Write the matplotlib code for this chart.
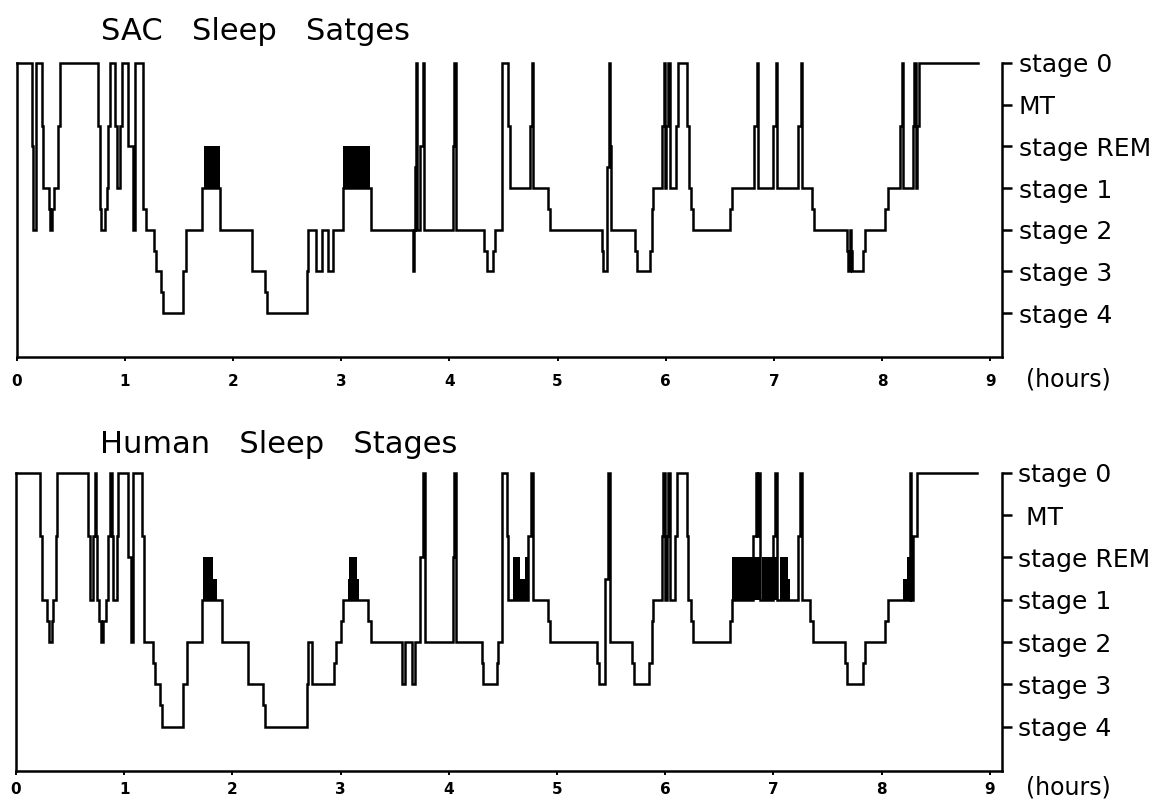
import matplotlib
matplotlib.use("Agg")
import matplotlib.pyplot as plt

# stage levels: 6 = stage 0, 5 = MT, 4 = REM, 3 = stage 1, 2 = stage 2, 1 = stage 3, 0 = stage 4
stage_ticks = [6, 5, 4, 3, 2, 1, 0]
sac_stage_labels = ["stage 0", "MT", "stage REM", "stage 1", "stage 2", "stage 3", "stage 4"]
human_stage_labels = ["stage 0", " MT", "stage REM", "stage 1", "stage 2", "stage 3", "stage 4"]
hour_ticks = [0, 1, 2, 3, 4, 5, 6, 7, 8, 9]

# SAC hypnogram (hours, stage level)
sac_hours = [0.000, 0.140, 0.155, 0.180, 0.233, 0.248, 0.303, 0.313, 0.331, 0.347,
             0.387, 0.402, 0.756, 0.772, 0.781, 0.818, 0.834, 0.849, 0.864, 0.910,
             0.926, 0.957, 0.972, 1.033, 1.074, 1.095, 1.172, 1.194, 1.271, 1.289,
             1.333, 1.357, 1.542, 1.567, 1.712, 1.881, 2.174, 2.297, 2.312, 2.682,
             2.697, 2.768, 2.821, 2.882, 2.928, 3.015, 3.274, 3.667, 3.674, 3.680,
             3.689, 3.704, 3.729, 3.754, 3.769, 4.031, 4.043, 4.062, 4.321, 4.346,
             4.407, 4.422, 4.484, 4.545, 4.561, 4.746, 4.761, 4.776, 4.915, 4.931,
             5.408, 5.423, 5.455, 5.473, 5.485, 5.492, 5.716, 5.732, 5.855, 5.871,
             5.885, 5.963, 5.984, 5.993, 6.003, 6.024, 6.040, 6.095, 6.117, 6.200,
             6.218, 6.231, 6.255, 6.594, 6.610, 6.816, 6.841, 6.856, 6.994, 7.019,
             7.031, 7.225, 7.248, 7.263, 7.349, 7.371, 7.673, 7.680, 7.700, 7.712,
             7.722, 7.826, 7.842, 8.027, 8.057, 8.166, 8.181, 8.190, 8.288, 8.297,
             8.313, 8.325, 8.338, 8.889]
sac_stage = [6, 4, 2, 6, 4.5, 3, 2.5, 2, 2.5, 3,
             4.5, 6, 4.5, 2.5, 2, 2.5, 3, 4.5, 6, 4.5,
             3, 4.5, 6, 4, 2, 6, 2.5, 2, 1.5, 1,
             0.5, 0, 1, 2, 3, 2, 1, 0.5, 0, 1,
             2, 1, 2, 1, 2, 3, 2, 1, 2, 3.5,
             6, 2, 4, 6, 2, 4, 6, 2, 1.5, 1,
             1.5, 2, 6, 4.5, 3, 4.5, 6, 3, 2.5, 2,
             1.5, 1, 3.5, 6, 4, 2, 1.5, 1, 1.5, 2.5,
             3, 4.5, 6, 3, 4.5, 6, 3, 4.5, 6, 4.5,
             3, 2.5, 2, 2.5, 3, 4.5, 6, 3, 4.5, 6,
             3, 4.5, 6, 3, 2.5, 2, 1.5, 1, 2, 1.5,
             1, 1.5, 2, 2.5, 3, 4.5, 6, 3, 4.5, 6,
             3, 4.5, 6, 6]
# REM periods drawn as solid blocks: (start, end, top level)
sac_rem = [(1.733, 1.881, 4), (3.020, 3.270, 4)]

# Human hypnogram
human_hours = [0.000, 0.222, 0.237, 0.284, 0.308, 0.330, 0.345, 0.370, 0.382, 0.669,
               0.684, 0.715, 0.727, 0.739, 0.752, 0.767, 0.782, 0.807, 0.832, 0.850,
               0.869, 0.884, 0.900, 0.930, 0.946, 1.038, 1.060, 1.084, 1.161, 1.183,
               1.269, 1.285, 1.331, 1.352, 1.546, 1.577, 1.716, 1.901, 2.147, 2.286,
               2.301, 2.686, 2.702, 2.733, 2.939, 2.957, 3.004, 3.019, 3.256, 3.278,
               3.565, 3.595, 3.657, 3.688, 3.734, 3.758, 3.780, 4.036, 4.048, 4.067,
               4.304, 4.319, 4.443, 4.458, 4.489, 4.535, 4.550, 4.735, 4.757, 4.775,
               4.920, 4.935, 5.367, 5.391, 5.444, 5.474, 5.490, 5.690, 5.712, 5.853,
               5.875, 5.890, 5.968, 5.983, 5.998, 6.014, 6.029, 6.044, 6.091, 6.106,
               6.199, 6.214, 6.235, 6.260, 6.599, 6.614, 6.814, 6.836, 6.851, 6.861,
               6.876, 6.999, 7.015, 7.030, 7.230, 7.246, 7.261, 7.338, 7.369, 7.662,
               7.677, 7.831, 7.847, 8.031, 8.062, 8.262, 8.275, 8.293, 8.324, 8.879]
human_stage = [6, 4.5, 3, 2.5, 2, 2.5, 3, 4.5, 6, 4.5,
               3, 4.5, 6, 4.5, 3, 2.5, 2, 2.5, 3, 4.5,
               6, 4.5, 3, 4.5, 6, 4, 2, 6, 4.5, 2,
               1.5, 1, 0.5, 0, 1, 2, 3, 2, 1, 0.5,
               0, 1, 2, 1, 1.5, 2, 2.5, 3, 2.5, 2,
               1, 2, 1, 2, 4, 6, 2, 4, 6, 2,
               1.5, 1, 1.5, 2, 6, 4.5, 3, 4.5, 6, 3,
               2.5, 2, 1.5, 1, 3.5, 6, 2, 1.5, 1, 1.5,
               2.5, 3, 4.5, 6, 3, 4.5, 6, 3, 4.5, 6,
               4.5, 3, 2.5, 2, 2.5, 3, 4.5, 6, 4.5, 6,
               3, 4.5, 6, 3, 4.5, 6, 3, 2.5, 2, 1.5,
               1, 1.5, 2, 2.5, 3, 6, 3, 4.5, 6, 6]
human_rem = [(1.731, 1.824, 4), (1.824, 1.855, 3.5),
             (3.065, 3.170, 3.5), (3.080, 3.150, 4),
             (4.596, 4.658, 4), (4.658, 4.704, 3.5), (4.704, 4.735, 4),
             (6.614, 6.876, 4), (6.892, 7.045, 4), (7.061, 7.138, 4), (7.138, 7.153, 3.5),
             (8.201, 8.238, 3.5), (8.238, 8.275, 4)]

plt.rcParams["font.family"] = ["DejaVu Sans"]

fig = plt.figure(figsize=(11.54, 8), dpi=100)
ax_top = fig.add_axes([0.0143, 0.5538, 0.854, 0.3675])
ax_bot = fig.add_axes([0.0139, 0.0363, 0.854, 0.3725])


def draw_hypnogram(ax, hours, stage, rem, labels, label_pad, hours_offset):
    ax.step(hours, stage, where="post", color="black", lw=1.8, clip_on=False,
            solid_joinstyle="miter")
    for start, end, top in rem:
        ax.fill_between([start, end], 3, top, color="black", lw=0)

    ax.set_xlim(0, 9.108)
    ax.set_ylim(-1.05, 6)

    ax.spines["top"].set_visible(False)
    for side in ["left", "right", "bottom"]:
        ax.spines[side].set_linewidth(1.8)

    ax.yaxis.tick_right()
    ax.set_yticks(stage_ticks)
    ax.set_yticklabels(labels, fontsize=18)
    ax.tick_params(axis="y", direction="out", length=7, width=1.8, pad=5)

    ax.set_xticks(hour_ticks)
    ax.set_xticklabels([str(h) for h in hour_ticks], fontsize=11, fontweight="bold")
    ax.tick_params(axis="x", direction="out", length=3, width=1.4, pad=label_pad)

    # axis unit sits to the right of the last tick label
    ax.annotate("(hours)", xy=(9.33, 0), xycoords=ax.get_xaxis_transform(),
                xytext=(0, hours_offset), textcoords="offset points",
                fontsize=17, va="center", ha="left", annotation_clip=False)


draw_hypnogram(ax_top, sac_hours, sac_stage, sac_rem, sac_stage_labels, 9, -16)
draw_hypnogram(ax_bot, human_hours, human_stage, human_rem, human_stage_labels, 5, -12)

fig.text(0.0875, 0.95, "SAC   Sleep   Satges", fontsize=22, va="baseline")
fig.text(0.0867, 0.434, "Human   Sleep   Stages", fontsize=22, va="baseline")

fig.savefig("out.png", dpi=100)
plt.close(fig)
